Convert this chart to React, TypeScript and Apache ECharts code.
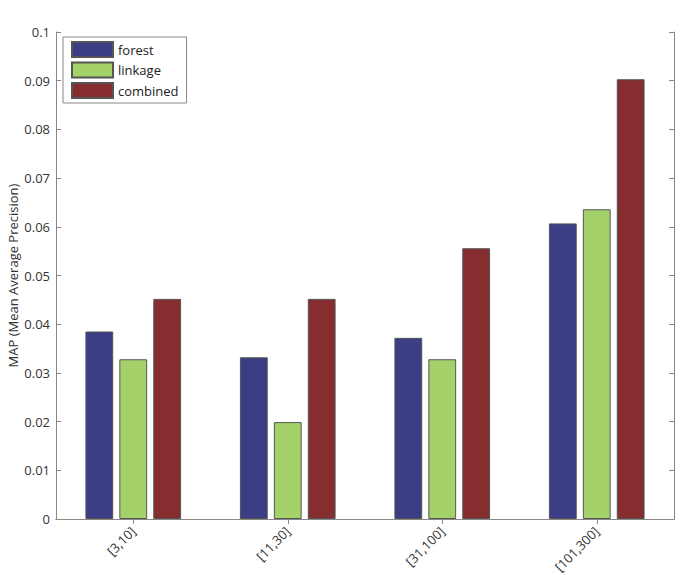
import React, { useEffect, useRef } from "react";
import * as echarts from "echarts";

const categories = ["[3,10]", "[11,30]", "[31,100]", "[101,300]"];
const forest = [0.0385, 0.0332, 0.0372, 0.0607];
const linkage = [0.0328, 0.0199, 0.0328, 0.0636];
const combined = [0.0452, 0.0452, 0.0556, 0.0903];
const seriesNames = ["forest", "linkage", "combined"];
const colors = ["#3b3d85", "#a4d16a", "#862d30"];

export default function App() {
  const ref = useRef<HTMLDivElement>(null);
  useEffect(() => {
    const chart = echarts.init(ref.current!, undefined, { renderer: "svg" });
    const font = "Open Sans";
    const axisLine = { show: true, lineStyle: { color: "#888", width: 1 } };
    const dataSets = [forest, linkage, combined];
    chart.setOption({
      animation: false,
      backgroundColor: "#fff",
      textStyle: { fontFamily: font },
      grid: { left: 56, right: 11, top: 32, bottom: 56, containLabel: false, outerBoundsMode: "none" },
      legend: {
        orient: "vertical",
        left: 63,
        top: 37,
        data: seriesNames,
        icon: "rect",
        itemWidth: 41,
        itemHeight: 15,
        itemGap: 3.5,
        padding: [4, 8, 4, 8],
        borderColor: "#888",
        borderWidth: 1,
        backgroundColor: "#fff",
        textStyle: { fontFamily: font, fontSize: 13, color: "#222", lineHeight: 15 },
      },
      xAxis: [
        {
          type: "category",
          data: categories,
          position: "bottom",
          axisLine,
          axisTick: { show: true, inside: true, alignWithLabel: true, length: 5, lineStyle: { color: "#888" } },
          axisLabel: { rotate: 45, fontSize: 13, color: "#333", fontFamily: font, margin: 10 },
          splitLine: { show: false },
        },
        {
          type: "category",
          data: categories,
          position: "top",
          axisLine,
          axisTick: { show: true, inside: true, alignWithLabel: true, length: 5, lineStyle: { color: "#888" } },
          axisLabel: { show: false },
          splitLine: { show: false },
        },
      ],
      yAxis: [
        {
          type: "value",
          min: 0,
          max: 0.1,
          interval: 0.01,
          position: "left",
          name: "MAP (Mean Average Precision)",
          nameLocation: "middle",
          nameGap: 37,
          nameMoveOverlap: false,
          nameTextStyle: { fontSize: 13, color: "#333", fontFamily: font },
          axisLine,
          axisTick: { show: true, inside: true, length: 5, lineStyle: { color: "#888" } },
          axisLabel: {
            fontSize: 13,
            color: "#333",
            fontFamily: font,
            margin: 6,
            formatter: (v: number) => String(+v.toFixed(2)),
          },
          splitLine: { show: false },
        },
        {
          type: "value",
          min: 0,
          max: 0.1,
          interval: 0.01,
          position: "right",
          axisLine,
          axisTick: { show: true, inside: true, length: 5, lineStyle: { color: "#888" } },
          axisLabel: { show: false },
          splitLine: { show: false },
        },
      ],
      series: seriesNames.map((name, i) => ({
        name,
        type: "bar",
        data: dataSets[i],
        barWidth: "18%",
        barGap: "22%",
        itemStyle: { color: colors[i], borderColor: "#555", borderWidth: 1 },
      })),
    });
    return () => chart.dispose();
  }, []);
  return <div ref={ref} style={{ width: 685, height: 575, position: "absolute", left: 0, top: 0 }} />;
}
